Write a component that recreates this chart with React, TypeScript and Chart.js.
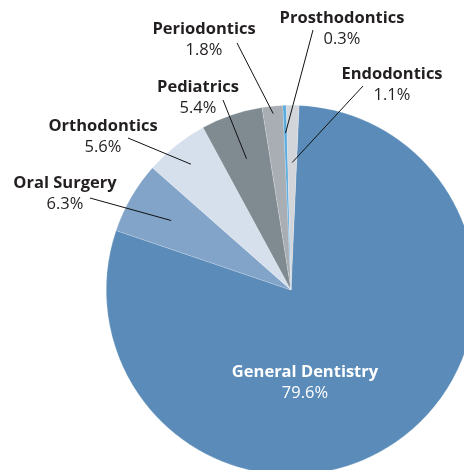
import React, { useEffect, useRef } from "react";
import { Chart, registerables } from "chart.js";

Chart.register(...registerables);

const categories = [
  "General Dentistry",
  "Oral Surgery",
  "Orthodontics",
  "Pediatrics",
  "Periodontics",
  "Prosthodontics",
  "Endodontics",
];
const shares = [79.6, 6.3, 5.6, 5.4, 1.8, 0.3, 1.1];
const shareLabels = ["79.6%", "6.3%", "5.6%", "5.4%", "1.8%", "0.3%", "1.1%"];
const sliceColors = ["#5b8cb9", "#82a4c9", "#d6e0ed", "#7f8a91", "#a8aeb3", "#5aabe0", "#d2d6da"];

// label layout: text centre x, name baseline y, line start (x,y), line end as fraction of radius
const labelLayout = [
  { x: 305, y: 377, inside: true, lx: 0, ly: 0, f: 0 },
  { x: 65, y: 188, inside: false, lx: 90, ly: 198, f: 0.75 },
  { x: 103, y: 131, inside: false, lx: 128, ly: 138, f: 0.87 },
  { x: 198, y: 92, inside: false, lx: 223, ly: 100, f: 0.75 },
  { x: 204, y: 34, inside: false, lx: 237, ly: 43, f: 0.96 },
  { x: 342, y: 23, inside: false, lx: 313, ly: 30, f: 0.85 },
  { x: 392, y: 79, inside: false, lx: 363, ly: 86, f: 0.69 },
];

const FONT = "'Open Sans', 'Noto Sans', sans-serif";

const labelPlugin = {
  id: "sliceLabels",
  afterDatasetsDraw(chart: any) {
    const ctx = chart.ctx;
    const meta = chart.getDatasetMeta(0);
    ctx.save();
    meta.data.forEach((arc: any, i: number) => {
      const L = labelLayout[i];
      const mid = (arc.startAngle + arc.endAngle) / 2;
      if (!L.inside) {
        const ex = arc.x + Math.cos(mid) * arc.outerRadius * L.f;
        const ey = arc.y + Math.sin(mid) * arc.outerRadius * L.f;
        ctx.beginPath();
        ctx.strokeStyle = "#111111";
        ctx.lineWidth = 1;
        ctx.moveTo(L.lx, L.ly);
        ctx.lineTo(ex, ey);
        ctx.stroke();
      }
      ctx.fillStyle = L.inside ? "#ffffff" : "#231f20";
      ctx.textAlign = "center";
      ctx.textBaseline = "alphabetic";
      ctx.font = `bold 16.5px ${FONT}`;
      ctx.fillText(categories[i], L.x, L.y);
      ctx.font = `16.5px ${FONT}`;
      ctx.fillText(shareLabels[i], L.x, L.y + 21);
    });
    ctx.restore();
  },
};

export default function App() {
  const ref = useRef<HTMLCanvasElement>(null);
  useEffect(() => {
    if (!ref.current) return;
    const chart = new Chart(ref.current, {
      type: "pie",
      data: {
        labels: categories,
        datasets: [
          {
            data: shares,
            backgroundColor: sliceColors,
            borderColor: "rgba(255,255,255,0.35)",
            borderWidth: 0.5,
            hoverOffset: 0,
            offset: 0,
          },
        ],
      },
      options: {
        animation: false,
        responsive: false,
        rotation: 2.5,
        layout: { padding: { left: 106, top: 105, right: 124, bottom: 125 } },
        plugins: {
          legend: { display: false },
          tooltip: { enabled: false },
        },
      },
      plugins: [labelPlugin],
    });
    return () => chart.destroy();
  }, []);
  return (
    <div
      style={{
        position: "fixed",
        left: 0,
        top: 0,
        width: 464,
        height: 470,
        overflow: "hidden",
        background: "#ffffff",
      }}
    >
      <canvas
        ref={ref}
        width={600}
        height={600}
        style={{ position: "absolute", left: 0, top: 0, width: 600, height: 600 }}
      />
    </div>
  );
}
